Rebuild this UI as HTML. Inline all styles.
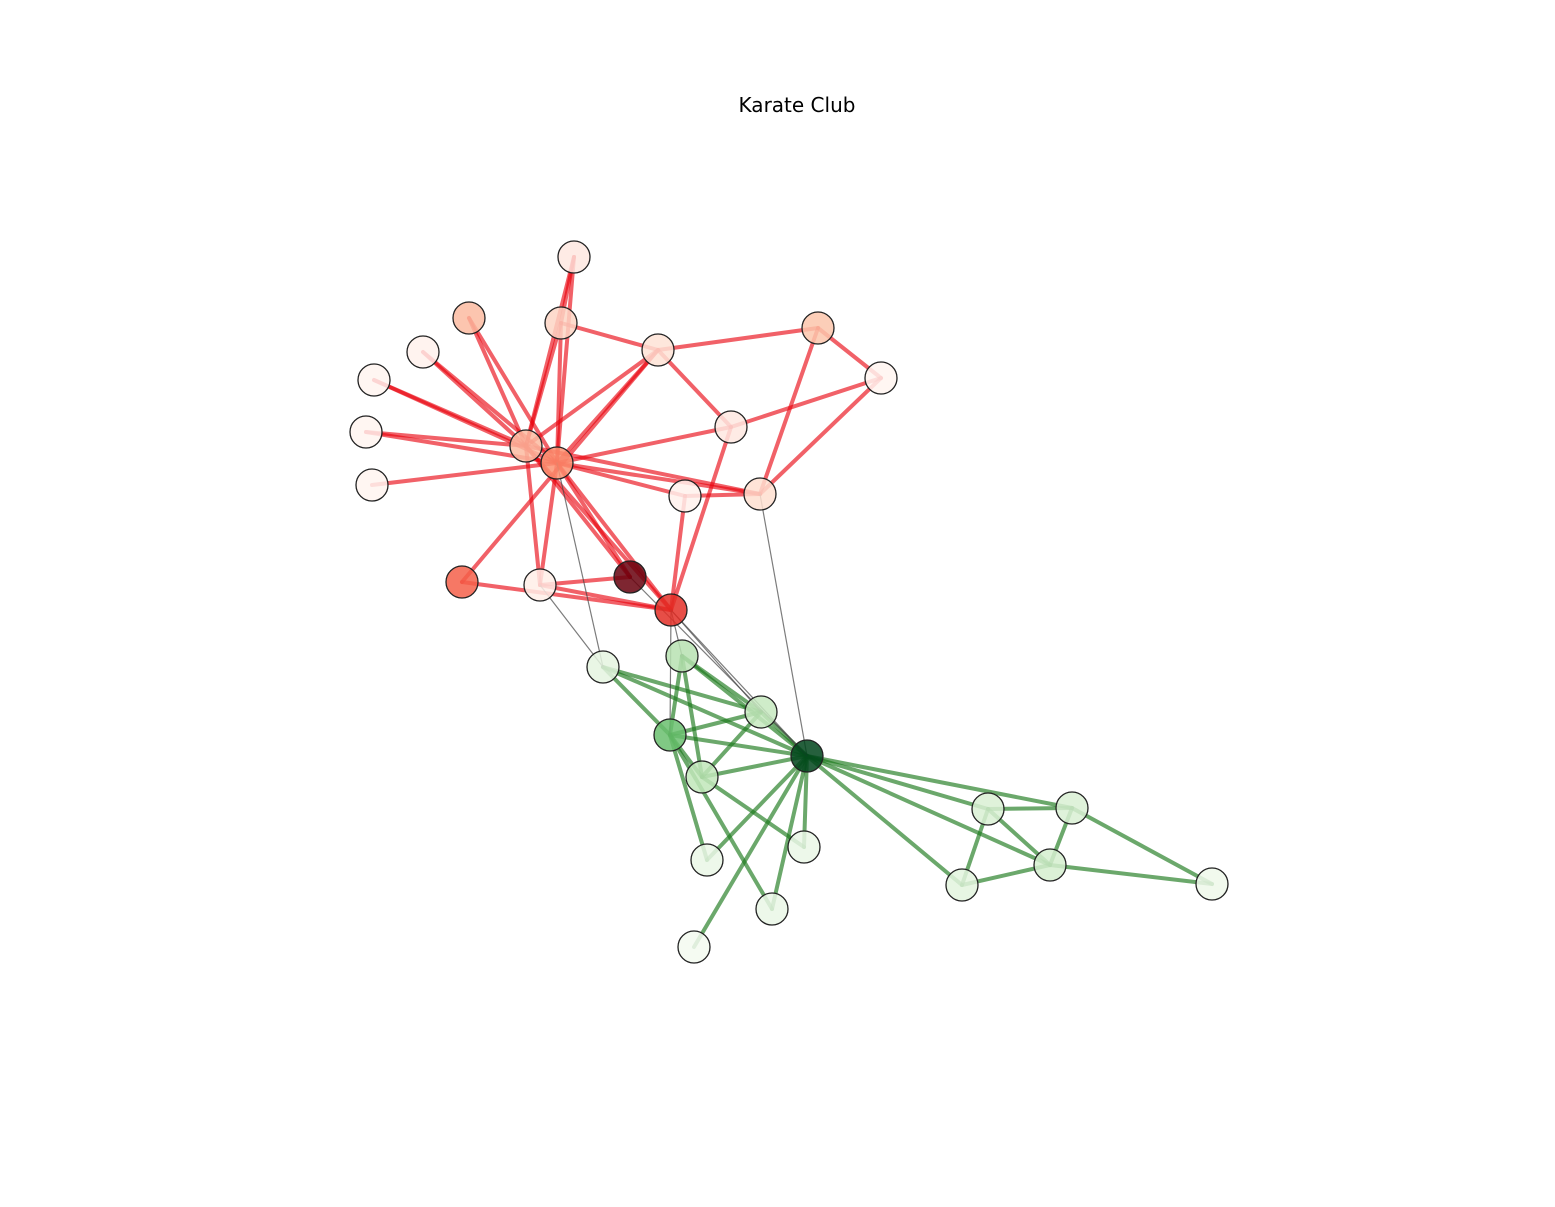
<!DOCTYPE html>
<html><head><meta charset="utf-8">
<style>
html,body{margin:0;padding:0;background:#fff;}
svg{display:block;}
</style></head>
<body>
<svg id="chart" width="1555" height="1207" xmlns="http://www.w3.org/2000/svg">
<rect width="1555" height="1207" fill="#fff"/>
<text x="797" y="112" text-anchor="middle" font-family="DejaVu Sans, Liberation Sans, sans-serif" font-size="20" fill="#000">Karate Club</text>
<g id="edges"></g>
<g id="nodes"></g>
</svg>
<script>
const nodeIds = ["A","B","C","D","E","F","G","H","I","J","K","L","M","N","O","P","Q","R","S","T","U","V","W","X","Y","Z","AA","AB","AC","AD","AE","AF","AG","AH"];
const nodeX = [574,469,561,423,374,366,372,526,557,658,818,881,731,685,760,462,540,630,671,603,682,761,670,807,702,707,804,772,694,988,1072,962,1050,1212];
const nodeY = [257,318,323,352,380,432,485,446,463,350,328,378,427,496,494,582,585,577,610,667,656,712,735,756,777,860,847,909,947,809,808,885,865,884];
const nodeColor = ["#fee8e1","#fcbba1","#fdd5c4","#fff1ec","#fff5f0","#fff5f0","#fff5f0","#fcbba1","#fc9272","#fee3d6","#fcc5ab","#fff5f0","#fee8e1","#fff1ec","#fedfd0","#f5604a","#ffefe8","#67000d","#e32f27","#e5f5e0","#b7e2b1","#c7e9c0","#6abf6e","#00441b","#c1e6ba","#eaf7e6","#eaf7e6","#eaf7e6","#f3faf0","#d9f0d3","#d9f0d3","#e3f4de","#d5efcf","#eef8ea"];
const redEdges = [["I","A"],["H","A"],["C","I"],["C","H"],["C","J"],["B","H"],["B","I"],["D","H"],["D","I"],["E","H"],["E","I"],["F","H"],["F","I"],["G","I"],["I","J"],["H","J"],["J","M"],["J","K"],["K","L"],["K","O"],["L","M"],["L","O"],["M","I"],["M","S"],["I","O"],["I","N"],["H","O"],["N","O"],["N","S"],["I","S"],["H","S"],["I","R"],["H","Q"],["I","Q"],["Q","R"],["Q","S"],["P","S"],["P","J"],["C","A"],["H","R"]];
const greyEdges = [["Q","T"],["I","T"],["O","X"],["S","U"],["S","W"],["S","X"],["R","X"],["S","V"]];
const greenEdges = [["T","X"],["T","W"],["T","V"],["U","W"],["U","Y"],["U","X"],["U","V"],["V","W"],["V","Y"],["V","X"],["W","X"],["W","Y"],["W","Z"],["W","AB"],["Y","X"],["Y","AA"],["X","Z"],["X","AA"],["X","AB"],["X","AC"],["X","AD"],["X","AE"],["X","AF"],["X","AG"],["AD","AE"],["AD","AF"],["AD","AG"],["AE","AG"],["AF","AG"],["AG","AH"],["AE","AH"]];

const ns="http://www.w3.org/2000/svg";
const eg=document.getElementById("edges"), ng=document.getElementById("nodes");
function px(id){return nodeX[nodeIds.indexOf(id)];}
function py(id){return nodeY[nodeIds.indexOf(id)];}
function drawEdges(list,color,w,op,name){
  list.forEach(e=>{
    const l=document.createElementNS(ns,"line");
    l.setAttribute("x1",px(e[0]));l.setAttribute("y1",py(e[0]));
    l.setAttribute("x2",px(e[1]));l.setAttribute("y2",py(e[1]));
    l.setAttribute("stroke",color);l.setAttribute("stroke-width",w);
    l.setAttribute("stroke-opacity",op);l.setAttribute("stroke-linecap","round");
    
    
    eg.appendChild(l);
  });
}
drawEdges(redEdges,"#e8000b",4,0.62,"red-edge");
drawEdges(greenEdges,"#1b7a1b",4,0.65,"green-edge");
drawEdges(greyEdges,"#444",1.2,0.7,"cross-edge");
nodeIds.forEach((id,i)=>{
  const c=document.createElementNS(ns,"circle");
  c.setAttribute("cx",nodeX[i]);c.setAttribute("cy",nodeY[i]);c.setAttribute("r",16);
  c.setAttribute("fill",nodeColor[i]);c.setAttribute("fill-opacity",0.85);
  c.setAttribute("stroke","#222");c.setAttribute("stroke-width",1.3);
  
  
  ng.appendChild(c);
});
</script>
</body></html>
